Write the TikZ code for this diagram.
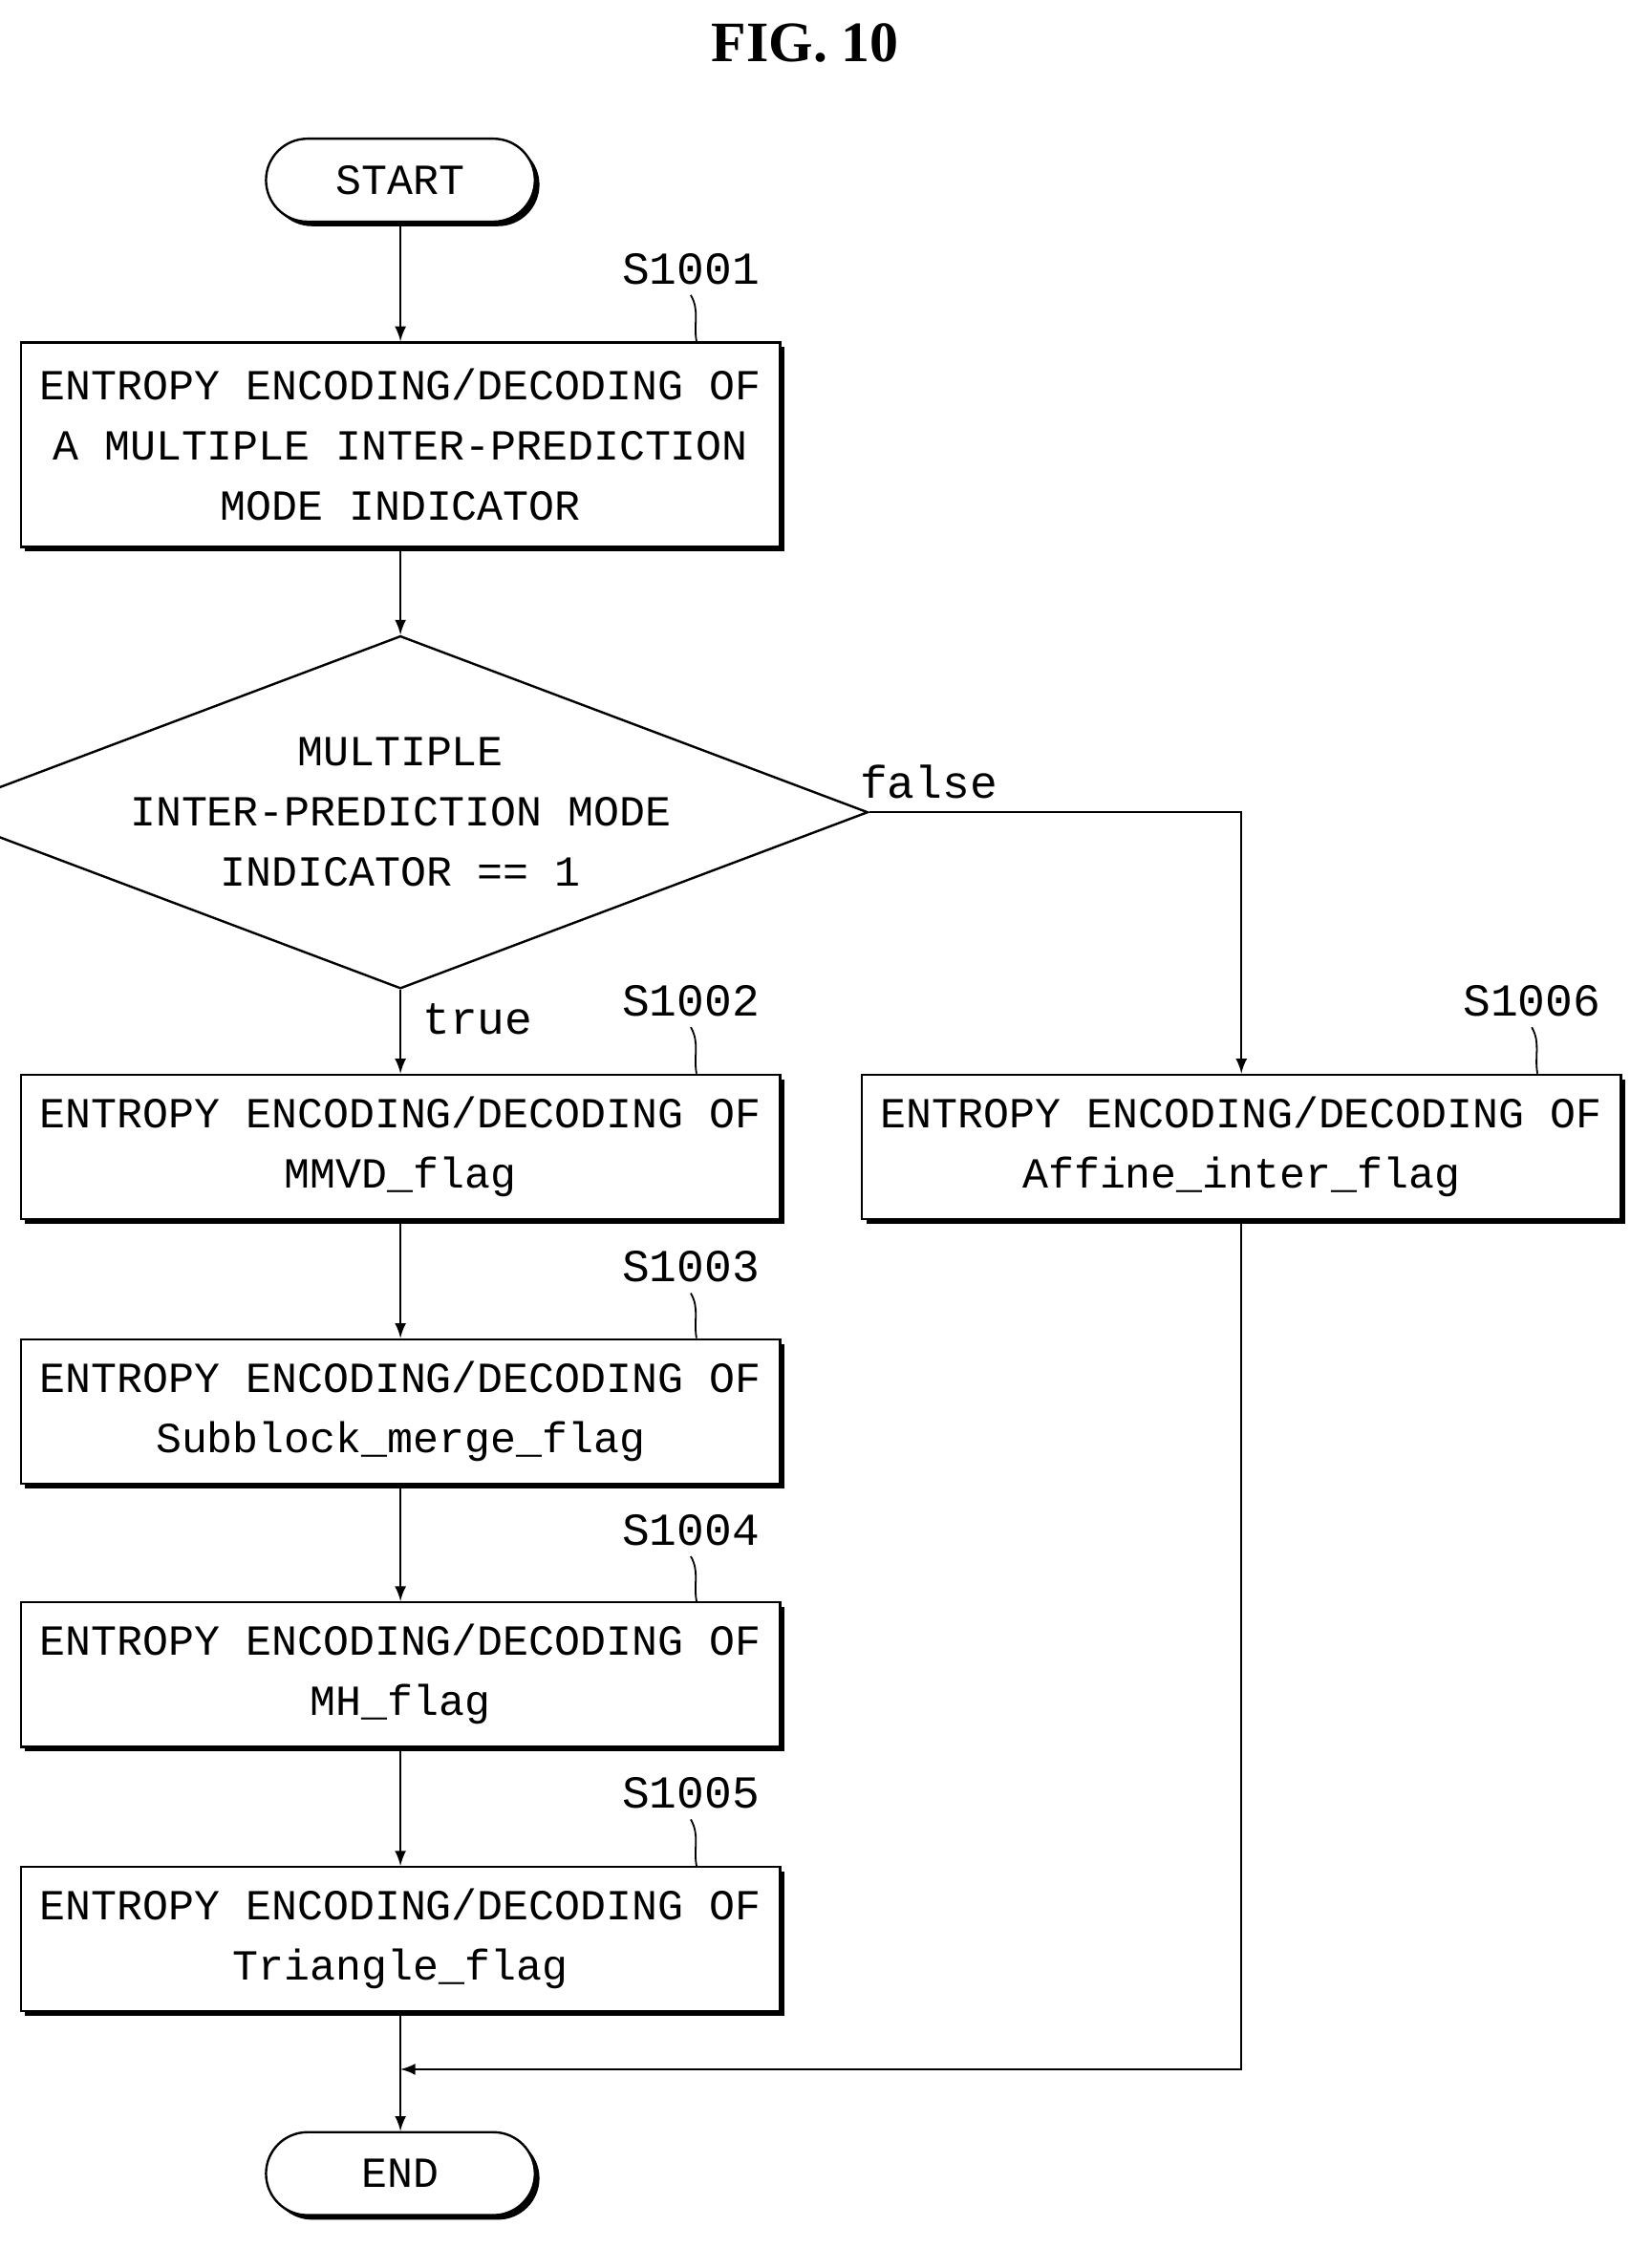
\documentclass[tikz,border=0pt]{standalone}
\usepackage{fontspec}
\setmainfont{Liberation Serif}
\newfontfamily\boxfont{Liberation Mono}
\usetikzlibrary{positioning,shapes.geometric,shadows,calc}

\begin{document}
\begin{tikzpicture}[
  x=0.5pt,y=-0.5pt,
  thick,
  boxshadow/.style={drop shadow={shadow xshift=1.6pt,shadow yshift=-1.6pt,fill=black,opacity=1}},
  stepbox/.style={
    draw,
    fill=white,
    boxshadow,
    rectangle,
    minimum width=265.5pt,
    font=\boxfont\fontsize{15}{21}\selectfont,
    align=center
    },
  term/.style={
    draw,
    fill=white,
    boxshadow,
    rounded corners=14.5pt,
    minimum width=94pt,
    minimum height=29pt,
    font=\boxfont\fontsize{15}{18}\selectfont
    },
  test/.style={
    draw,
    fill=white,
    diamond,
    aspect=2.65,
    inner sep=0pt,
    minimum width=265.5pt,
    minimum height=100pt,
    font=\boxfont\fontsize{15}{21}\selectfont,
    align=center
    },
  tag/.style={font=\boxfont\fontsize{16}{18}\selectfont},
  arr/.style={->,>=latex}
]
\useasboundingbox (0,0) rectangle (1155,1572);

\node[font=\bfseries\fontsize{20}{24}\selectfont] (title) at (563,30) {FIG. 10};

\node[term] (start) at (280,126) {START};
\node[stepbox, minimum height=71.5pt] (s1) at (280,311)
  {ENTROPY ENCODING/DECODING OF\\A MULTIPLE INTER-PREDICTION\\MODE INDICATOR};
\node[test] (dec) at (280,568) {MULTIPLE\\INTER-PREDICTION MODE\\INDICATOR == 1};
\node[stepbox, minimum height=50.5pt] (s2) at (280,802) {ENTROPY ENCODING/DECODING OF\\MMVD\_flag};
\node[stepbox, minimum height=50.5pt] (s3) at (280,987) {ENTROPY ENCODING/DECODING OF\\Subblock\_merge\_flag};
\node[stepbox, minimum height=50.5pt] (s4) at (280,1171) {ENTROPY ENCODING/DECODING OF\\MH\_flag};
\node[stepbox, minimum height=50.5pt] (s5) at (280,1356) {ENTROPY ENCODING/DECODING OF\\Triangle\_flag};
\node[stepbox, minimum height=50.5pt] (s6) at (868,802) {ENTROPY ENCODING/DECODING OF\\Affine\_inter\_flag};
\node[term] (end) at (280,1520) {END};

% step labels
\node[tag] (l1) at (483,188) {S1001};
\node[tag] (l2) at (483,700) {S1002};
\node[tag] (l3) at (483,886) {S1003};
\node[tag] (l4) at (483,1070) {S1004};
\node[tag] (l5) at (483,1254) {S1005};
\node[tag] (l6) at (1071,700) {S1006};
\foreach \L/\B in {l1/s1,l2/s2,l3/s3,l4/s4,l5/s5,l6/s6}
  \draw[semithick] (\L.south) to[out=-60,in=100] ([xshift=2pt]\L.south |- \B.north);

\coordinate (merge) at (280,1447);
\coordinate (corner1) at (868,568);
\coordinate (corner2) at (868,1447);

\draw[arr] (start) -- (s1);
\draw[arr] (s1) -- (dec);
\draw[arr] (dec) -- node[tag, pos=0.35, right=4pt] {true} (s2);
\draw[arr] (s2) -- (s3);
\draw[arr] (s3) -- (s4);
\draw[arr] (s4) -- (s5);
\draw[arr] (s5) -- (end);
\draw[arr] (dec.east) -- node[tag, pos=0.16, above=1pt] {false} (corner1) -- (s6);
\draw[arr] (s6) -- (corner2) -- (merge);

\end{tikzpicture}
\end{document}
